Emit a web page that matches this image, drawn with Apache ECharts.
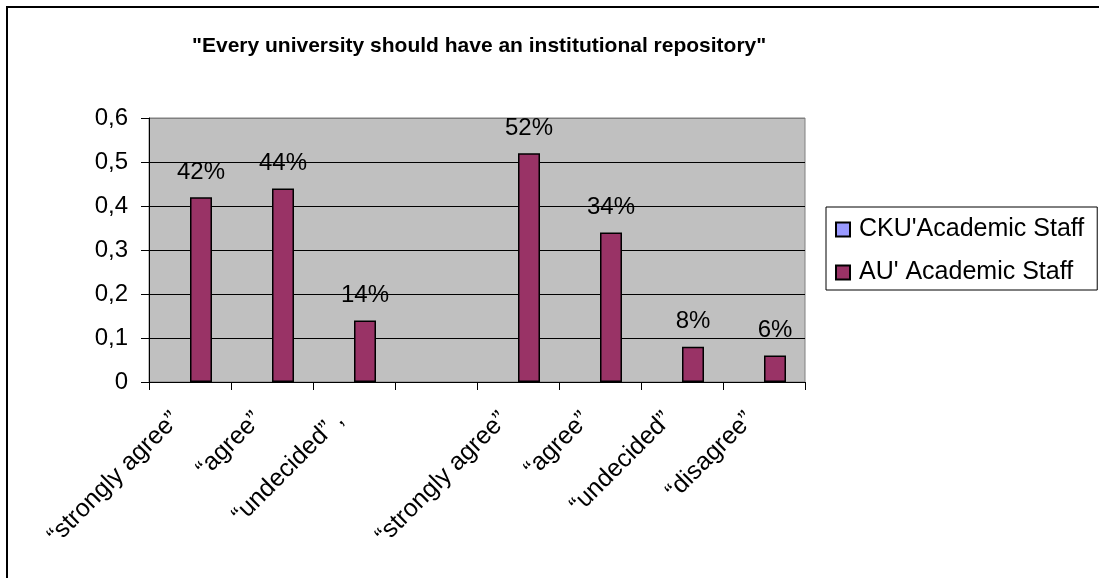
<!DOCTYPE html>
<html>
<head>
<meta charset="utf-8">
<script src="https://cdn.jsdelivr.net/npm/echarts@6/dist/echarts.min.js"></script>
<style>
html,body{margin:0;padding:0;background:#fff;}
#chart{width:1099px;height:578px;}
</style>
</head>
<body>
<div id="chart"></div>
<script>
const categories = ['“strongly agree”', '“agree”', '“undecided” ,', '', '“strongly agree”', '“agree”', '“undecided”', '“disagree”'];
const seriesNames = ["CKU'Academic Staff", "AU' Academic Staff"];
const ckuValues = [null, null, null, null, null, null, null, null];
const auValues = [0.42, 0.44, 0.14, null, 0.52, 0.34, 0.08, 0.06];
const yTickLabels = ['0', '0,1', '0,2', '0,3', '0,4', '0,5', '0,6'];
const titleText = '"Every university should have an institutional repository"';

const FONT = '"Liberation Sans", Arial, Helvetica, sans-serif';
const chart = echarts.init(document.getElementById('chart'), null, {renderer: 'canvas'});

chart.setOption({
  animation: false,
  backgroundColor: '#ffffff',
  title: {
    text: titleText,
    left: 192,
    top: 36,
    padding: 0,
    textStyle: {fontFamily: FONT, fontSize: 21, fontWeight: 'bold', color: '#000'}
  },
  legend: {
    orient: 'vertical',
    left: 826,
    top: 207,
    padding: [10, 13, 5, 9],
    itemGap: 18,
    itemWidth: 14,
    itemHeight: 14,
    icon: 'rect',
    borderColor: '#000',
    borderWidth: 1,
    data: seriesNames,
    textStyle: {fontFamily: FONT, fontSize: 25, color: '#000', padding: [0, 0, 0, 4]}
  },
  graphic: [{
    type: 'rect',
    silent: true,
    shape: {x: 7, y: 7, width: 1200, height: 700},
    style: {fill: 'none', stroke: '#000', lineWidth: 2}
  }],
  grid: {
    left: 149, top: 118, width: 656, height: 264,
    show: true,
    backgroundColor: '#C0C0C0',
    borderColor: '#808080',
    borderWidth: 1
  },
  xAxis: {
    type: 'category',
    data: categories,
    axisLine: {show: true, lineStyle: {color: '#000', width: 1}},
    axisTick: {show: true, length: 8, alignWithLabel: false, lineStyle: {color: '#000', width: 1}},
    splitLine: {show: false},
    axisLabel: {
      interval: 0,
      rotate: 45,
      margin: 20,
      padding: [0, 20, 0, 0],
      fontFamily: FONT,
      fontSize: 25,
      color: '#000'
    }
  },
  yAxis: {
    type: 'value',
    min: 0,
    max: 0.6,
    interval: 0.1,
    axisLine: {show: true, lineStyle: {color: '#000', width: 1}},
    axisTick: {show: true, length: 8, lineStyle: {color: '#000', width: 1}},
    splitLine: {show: true, lineStyle: {color: ['#000', '#000', '#000', '#000', '#000', '#000', '#808080'], width: 1}},
    axisLabel: {
      margin: 21,
      fontFamily: FONT,
      fontSize: 24,
      color: '#000',
      formatter: function (v) { return yTickLabels[Math.round(v * 10)]; }
    }
  },
  series: [
    {
      name: seriesNames[0],
      type: 'bar',
      data: ckuValues,
      barWidth: 22,
      barGap: '0%',
      itemStyle: {color: '#9999FF', borderColor: '#000', borderWidth: 1.5}
    },
    {
      name: seriesNames[1],
      type: 'bar',
      data: auValues,
      barWidth: 22,
      barGap: '0%',
      itemStyle: {color: '#993366', borderColor: '#000', borderWidth: 1.5},
      label: {
        show: true,
        position: 'top',
        distance: 13,
        fontFamily: FONT,
        fontSize: 24,
        color: '#000',
        formatter: function (p) { return p.value == null ? '' : Math.round(p.value * 100) + '%'; }
      }
    }
  ]
});
</script>
</body>
</html>
